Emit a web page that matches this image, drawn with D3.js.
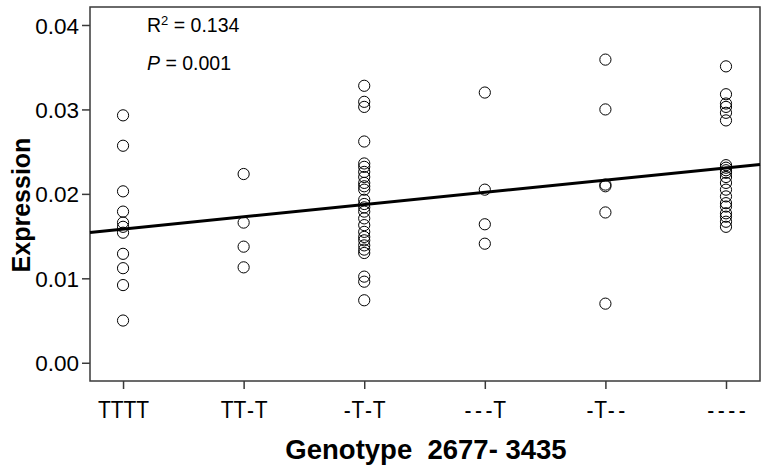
<!DOCTYPE html>
<html><head><meta charset="utf-8">
<script src="https://cdn.jsdelivr.net/npm/d3@7"></script>
<style>body{margin:0;background:#fff;} svg{display:block;} text{font-family:"Liberation Sans",Arial,sans-serif;}</style>
</head><body><svg id="c" width="768" height="470"></svg>
<script>
const categories = ["TTTT","TT-T","-T-T","---T","-T--","----"];
const valsTTTT = [0.0293,0.0257,0.0203,0.0179,0.0166,0.0161,0.0154,0.0129,0.0112,0.0092,0.0050];
const valsTTmT = [0.02235,0.0166,0.01375,0.0113];
const valsmTmT = [0.0328,0.0309,0.0303,0.0262,0.0236,0.0232,0.0226,0.0220,0.0213,0.0209,0.0205,0.0193,0.0188,0.0184,0.0179,0.0171,0.0163,0.0155,0.0149,0.0145,0.0139,0.0134,0.0130,0.0102,0.0096,0.0074];
const valsmmmT = [0.0320,0.0205,0.0164,0.0141];
const valsmTmm = [0.0359,0.0300,0.0211,0.0209,0.0178,0.0070];
const valsmmmm = [0.0351,0.0318,0.0307,0.0303,0.0296,0.0287,0.0234,0.0231,0.0228,0.0225,0.0220,0.0213,0.0205,0.0197,0.0189,0.0185,0.0177,0.0173,0.0167,0.0161];
const seriesValues = [valsTTTT,valsTTmT,valsmTmT,valsmmmT,valsmTmm,valsmmmm];
const yTicks = [0.00,0.01,0.02,0.03,0.04];
const fitIntercept = 0.01583; // at first category
const fitSlope = 0.00145;     // per category step

const svg = d3.select("#c");
const L=90, R=760, T=7, B=381;
const x = d3.scaleLinear().domain([-0.274, 5.282]).range([L,R]);
const y = d3.scaleLinear().domain([-0.00216, 0.04213]).range([B,T]);

// frame
svg.append("rect").attr("x",L).attr("y",T).attr("width",R-L).attr("height",B-T)
  .attr("fill","none").attr("stroke","#3a3a3a").attr("stroke-width",1.5);

// y axis
const yAxis = d3.axisLeft(y).tickValues(yTicks).tickFormat(d3.format(".2f")).tickSize(8).tickPadding(3);
const gy = svg.append("g").attr("transform",`translate(${L},0)`).call(yAxis);
gy.select(".domain").remove();
gy.selectAll("line").attr("stroke","#3a3a3a").attr("stroke-width",1.5);
gy.selectAll("text").attr("font-size",22.5).attr("fill","#000").attr("dy","0.36em");

// x axis
const xAxis = d3.axisBottom(x).tickValues(d3.range(categories.length)).tickFormat("").tickSize(8);
const gx = svg.append("g").attr("transform",`translate(0,${B})`).call(xAxis);
gx.select(".domain").remove();
gx.selectAll("line").attr("stroke","#3a3a3a").attr("stroke-width",1.5);
gx.selectAll(".tick").each(function(i){
  const t = d3.select(this).append("text")
    .attr("transform","translate(0,37) scale(1,1.1)")
    .attr("font-size",21).attr("fill","#000").attr("text-anchor","middle");
  const chars = categories[i].split("");
  chars.forEach((ch,k)=>{
    const sp = t.append("tspan").text(ch);
    if(ch==="-" && k>0 && chars[k-1]==="-") sp.attr("dx",3.5);
    else if(k>0 && chars[k-1]!==ch) sp.attr("dx",0.7);
  });
});

// points
const pts = [];
seriesValues.forEach((arr,i)=>arr.forEach(v=>pts.push({i,v})));
svg.append("g").selectAll("circle").data(pts).join("circle")
  .attr("cx",d=>x(d.i)).attr("cy",d=>y(d.v)).attr("r",5.6)
  .attr("fill","none").attr("stroke","#000").attr("stroke-width",1);

// regression line
const x0 = x.domain()[0], x1 = x.domain()[1];
svg.append("line")
  .attr("x1",x(x0)).attr("y1",y(fitIntercept+fitSlope*x0))
  .attr("x2",x(x1)).attr("y2",y(fitIntercept+fitSlope*x1))
  .attr("stroke","#000").attr("stroke-width",3);

// stats text
const t1 = svg.append("text").attr("x",147).attr("y",32).attr("font-size",19.5);
t1.append("tspan").text("R");
t1.append("tspan").text("2").attr("font-size",13).attr("dy",-7);
t1.append("tspan").text(" = 0.134").attr("dy",7);
const t2 = svg.append("text").attr("x",147).attr("y",70).attr("font-size",19.5);
t2.append("tspan").text("P").attr("font-style","italic");
t2.append("tspan").text(" = 0.001");

// axis titles
svg.append("text").attr("transform","translate(30,205) rotate(-90)").attr("text-anchor","middle")
  .attr("font-size",25).attr("font-weight","bold").text("Expression");
svg.append("text").attr("x",426).attr("y",459).attr("text-anchor","middle")
  .attr("font-size",27.5).attr("font-weight","bold").style("white-space","pre").text("Genotype  2677- 3435");
</script></body></html>
